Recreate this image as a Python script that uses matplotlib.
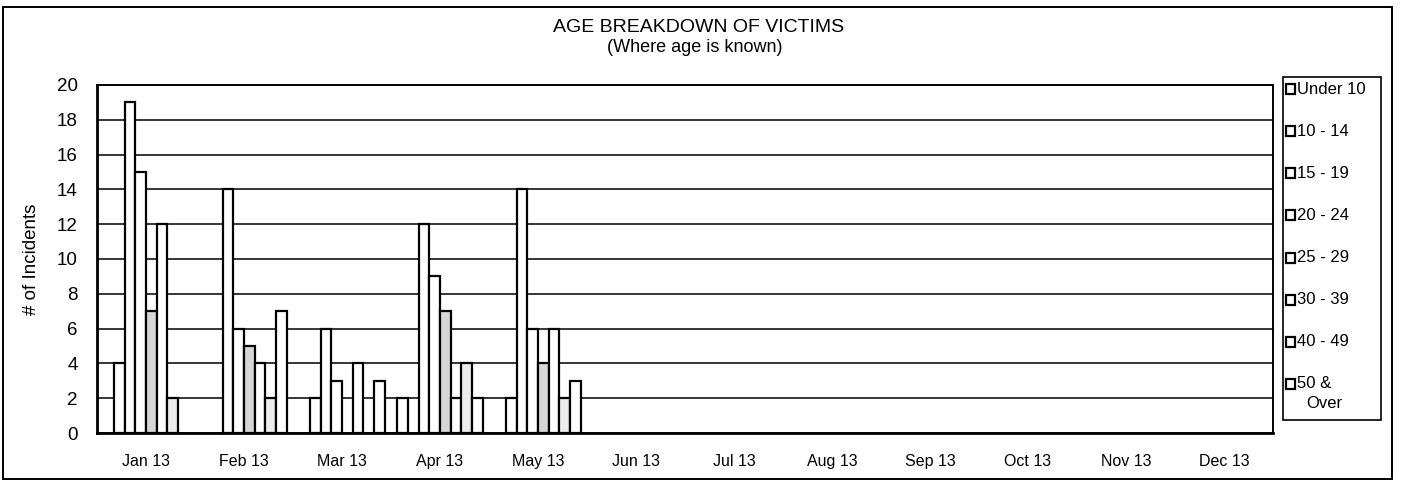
import matplotlib
matplotlib.use("Agg")
import matplotlib.pyplot as plt
import numpy as np
from matplotlib.patches import Rectangle

plt.rcParams['font.family'] = ['Liberation Sans', 'DejaVu Sans']

months = ["Jan 13", "Feb 13", "Mar 13", "Apr 13", "May 13", "Jun 13",
          "Jul 13", "Aug 13", "Sep 13", "Oct 13", "Nov 13", "Dec 13"]
series_names = ["Under 10", "10 - 14", "15 - 19", "20 - 24",
                "25 - 29", "30 - 39", "40 - 49", "50 &\nOver"]

under_10 = [0, 0, 0, 2, 0, 0, 0, 0, 0, 0, 0, 0]
age_10_14 = [4, 0, 2, 0, 2, 0, 0, 0, 0, 0, 0, 0]
age_15_19 = [19, 14, 6, 12, 14, 0, 0, 0, 0, 0, 0, 0]
age_20_24 = [15, 6, 3, 9, 6, 0, 0, 0, 0, 0, 0, 0]
age_25_29 = [7, 5, 0, 7, 4, 0, 0, 0, 0, 0, 0, 0]
age_30_39 = [12, 4, 4, 2, 6, 0, 0, 0, 0, 0, 0, 0]
age_40_49 = [2, 2, 0, 4, 2, 0, 0, 0, 0, 0, 0, 0]
age_50_over = [0, 7, 3, 2, 3, 0, 0, 0, 0, 0, 0, 0]

series = [under_10, age_10_14, age_15_19, age_20_24,
          age_25_29, age_30_39, age_40_49, age_50_over]
fills = ["white", "white", "white", "white", "#d6d6d6", "white", "#ececec", "white"]

W, H = 1403, 484
fig = plt.figure(figsize=(W / 100, H / 100), dpi=100)
ax = fig.add_axes([97 / W, 1 - 433 / H, (1273 - 97) / W, (433 - 85) / H])

x = np.arange(len(months))
n = len(series)
bw = 0.109
for i, (vals, fc) in enumerate(zip(series, fills)):
    v = np.array(vals, dtype=float)
    mask = v > 0
    ax.bar(x[mask] + (i - (n - 1) / 2) * bw, v[mask], width=bw,
           facecolor=fc, edgecolor="black", linewidth=1.6, zorder=3)

ax.set_xlim(-0.5, len(months) - 0.5)
ax.set_ylim(0, 20)
ax.set_yticks(range(0, 21, 2))
ax.set_xticks(x)
ax.set_xticklabels(months, fontsize=11.5)
ax.tick_params(axis='y', labelsize=13.5, length=0, pad=14)
ax.tick_params(axis='x', length=0, pad=15)
ax.yaxis.grid(True, color="black", linewidth=1.1, zorder=0)
ax.set_axisbelow(True)
for s in ["left", "bottom"]:
    ax.spines[s].set_linewidth(2.0)
for s in ["top", "right"]:
    ax.spines[s].set_linewidth(1.4)
ax.set_ylabel("# of Incidents", fontsize=13.5, labelpad=12)

fig.text(0.498, 1 - 28 / H, "AGE BREAKDOWN OF VICTIMS", ha="center", va="center", fontsize=14)
fig.text(0.495, 1 - 47 / H, "(Where age is known)", ha="center", va="center", fontsize=13)

# legend box
fig.patches.append(Rectangle((1283 / W, 1 - 420 / H), 98 / W, 343 / H,
                             transform=fig.transFigure, facecolor="white",
                             edgecolor="black", linewidth=1.2))
rows = [89, 131, 173, 215, 258, 300, 342, 384]
for name, yy in zip(series_names, rows):
    fig.patches.append(Rectangle((1286 / W, 1 - (yy + 5) / H), 9 / W, 10 / H,
                                 transform=fig.transFigure, facecolor="white",
                                 edgecolor="black", linewidth=1.6))
    if "\n" in name:
        first, second = name.split("\n")
        fig.text(1297 / W, 1 - yy / H, first, ha="left", va="center", fontsize=12)
        fig.text(1306 / W, 1 - (yy + 19) / H, second, ha="left", va="center", fontsize=12)
    else:
        fig.text(1297 / W, 1 - yy / H, name, ha="left", va="center", fontsize=12)

# outer border
fig.patches.append(Rectangle((3 / W, 1 - 479 / H), (1392 - 3) / W, (479 - 7) / H,
                             transform=fig.transFigure, facecolor="none",
                             edgecolor="black", linewidth=1.4))

fig.savefig("out.png", dpi=100)
